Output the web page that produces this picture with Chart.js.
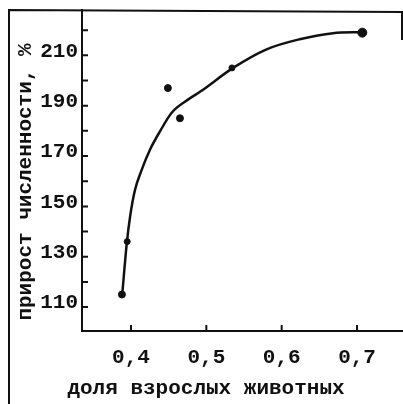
<!DOCTYPE html>
<html>
<head>
<meta charset="utf-8">
<style>
  html, body { margin: 0; padding: 0; background: #fff; }
</style>
</head>
<body>
<canvas id="chart" width="403" height="404"></canvas>
<script src="https://cdn.jsdelivr.net/npm/chart.js@4/dist/chart.umd.min.js"></script>
<script>
// measured points
const shareX = [0.388, 0.395, 0.449, 0.465, 0.534, 0.707];
const growthY = [115, 136, 197, 185, 205, 219];

// fitted curve
const curveX = [0.3885, 0.3944, 0.3988, 0.4053, 0.4142, 0.4252, 0.4385, 0.454, 0.4761, 0.4916, 0.536, 0.580, 0.624, 0.668, 0.707];
const curveY = [115.4, 135.3, 145.9, 156.5, 164.5, 172.5, 179.8, 187.2, 192.5, 195.5, 205.1, 212.4, 216.4, 218.8, 219.2];

// axes
const xTicks = [0.4, 0.5, 0.6, 0.7];
const yTicks = [110, 120, 130, 140, 150, 160, 170, 180, 190, 200, 210, 220];
const yTickLabels = [110, 130, 150, 170, 190, 210];
const xTitle = "доля взрослых животных";
const yTitle = "прирост численности, %";

const ink = "#111";
const font = "'Liberation Mono', 'DejaVu Sans Mono', monospace";

// inward ticks, page frame and axis titles
const paperPlugin = {
  id: "paper",
  afterDraw(chart) {
    const c = chart.ctx;
    const xs = chart.scales.x, ys = chart.scales.y;
    const area = chart.chartArea;
    c.save();
    c.strokeStyle = ink;
    c.lineWidth = 2;
    c.beginPath();
    yTicks.forEach(v => {
      const py = ys.getPixelForValue(v);
      c.moveTo(area.left, py);
      c.lineTo(area.left + 6, py);
    });
    xTicks.forEach(v => {
      const px = xs.getPixelForValue(v);
      c.moveTo(px, area.bottom);
      c.lineTo(px, area.bottom - 6);
    });
    // frame of the page
    c.moveTo(9, 404);
    c.lineTo(9, 10);
    c.lineTo(403, 12);
    c.moveTo(402, 12);
    c.lineTo(402, 40);
    c.stroke();

    c.fillStyle = ink;
    c.font = "bold 21px " + font;
    c.textAlign = "center";
    c.textBaseline = "middle";
    c.fillText(xTitle, 206, 389);
    c.translate(26, 182);
    c.rotate(-Math.PI / 2);
    c.fillText(yTitle, 0, 0);
    c.restore();
  }
};

const ctx = document.getElementById("chart").getContext("2d");
const chart = new Chart(ctx, {
  type: "scatter",
  data: {
    datasets: [{
      type: "line",
      data: curveX.map((x, i) => ({ x: x, y: curveY[i] })),
      borderColor: ink,
      borderWidth: 2.5,
      pointRadius: 0,
      cubicInterpolationMode: "monotone",
      fill: false
    }, {
      data: shareX.map((x, i) => ({ x: x, y: growthY[i] })),
      backgroundColor: ink,
      borderColor: ink,
      pointRadius: [3.5, 3, 3.5, 3.5, 3, 4.5]
    }]
  },
  options: {
    responsive: false,
    animation: false,
    layout: { autoPadding: false, padding: { left: 10, top: 10, right: 0, bottom: 0 } },
    plugins: { legend: { display: false }, tooltip: { enabled: false } },
    scales: {
      x: {
        type: "linear",
        min: 0.335,
        max: 0.761,
        grid: { display: false, drawTicks: false },
        border: { display: true, color: ink, width: 2 },
        afterBuildTicks: s => { s.ticks = xTicks.map(v => ({ value: v })); },
        afterFit: s => { s.height = 73; s.paddingLeft = 0; s.paddingRight = 0; },
        ticks: {
          autoSkip: false,
          maxRotation: 0,
          padding: 14,
          color: ink,
          font: { family: font, size: 21, weight: "bold" },
          callback: v => v.toFixed(1).replace(".", ",")
        }
      },
      y: {
        type: "linear",
        min: 100.5,
        max: 228,
        grid: { display: false, drawTicks: false },
        border: { display: true, color: ink, width: 2 },
        afterBuildTicks: s => { s.ticks = yTicks.map(v => ({ value: v })); },
        afterFit: s => { s.width = 72; s.paddingTop = 0; s.paddingBottom = 0; },
        ticks: {
          autoSkip: false,
          padding: 4,
          labelOffset: -4,
          color: ink,
          font: { family: font, size: 21, weight: "bold" },
          callback: v => yTickLabels.includes(v) ? String(v) : ""
        }
      }
    }
  },
  plugins: [paperPlugin]
});
</script>
</body>
</html>
